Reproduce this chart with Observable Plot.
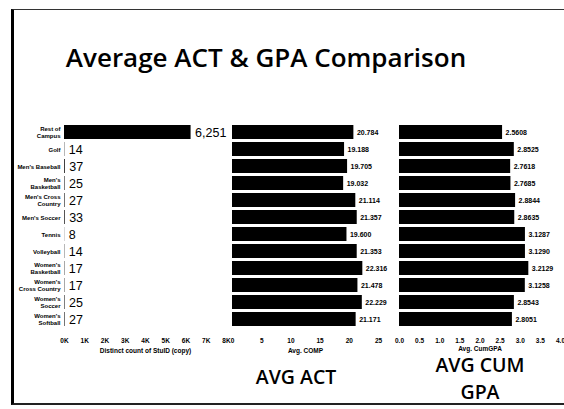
<!DOCTYPE html>
<html><head><meta charset="utf-8">
<script src="https://cdn.jsdelivr.net/npm/d3@7"></script>
<script src="https://cdn.jsdelivr.net/npm/@observablehq/plot@0.6"></script>
<style>
body{margin:0;background:#fff;}
#page{position:relative;width:564px;height:409px;overflow:hidden;background:#fff;font-family:"Liberation Sans",Arial,sans-serif;}
.frame{position:absolute;left:11px;top:9px;width:560px;height:393px;border-left:3px solid #000;border-top:1px solid #333;border-bottom:2px solid #222;}
.title{position:absolute;left:0;width:532px;top:44px;line-height:26px;text-align:center;font-family:"Open Sans",sans-serif;font-weight:600;font-size:26px;color:#000;white-space:nowrap;}
.panel{position:absolute;top:110px;}
.big{position:absolute;font-family:"Open Sans",sans-serif;font-weight:600;font-size:19.5px;line-height:26.6px;text-align:center;color:#000;white-space:nowrap;}
</style></head>
<body>
<div id="page">
  <div class="frame"></div>
  <div class="title">Average ACT &amp; GPA Comparison</div>
  <div class="panel" id="p1" style="left:0px"></div>
  <div class="panel" id="p2" style="left:219px"></div>
  <div class="panel" id="p3" style="left:389px"></div>
  <div class="big" style="left:246px;width:100px;top:364px">AVG ACT</div>
  <div class="big" style="left:420px;width:120px;top:352px">AVG CUM<br>GPA</div>
</div>
<script>
const categories = ["Rest of Campus","Golf","Men's Baseball","Men's Basketball","Men's Cross Country","Men's Soccer","Tennis","Volleyball","Women's Basketball","Women's Cross Country","Women's Soccer","Women's Softball"];
const categoryLabels = ["Rest of\nCampus","Golf","Men's Baseball","Men's\nBasketball","Men's Cross\nCountry","Men's Soccer","Tennis","Volleyball","Women's\nBasketball","Women's\nCross Country","Women's\nSoccer","Women's\nSoftball"];
const studentCounts = [6251,14,37,25,27,33,8,14,17,17,25,27];
const avgComp = [20.784,19.188,19.705,19.032,21.114,21.357,19.600,21.353,22.316,21.478,22.229,21.171];
const avgCumGpa = [2.5608,2.8525,2.7618,2.7685,2.8844,2.8635,3.1287,3.1290,3.2129,3.1258,2.8543,2.8051];
const countTicks = [0,1000,2000,3000,4000,5000,6000,7000,8000];
const compTicks = [0,5,10,15,20,25];
const gpaTicks = [0,0.5,1,1.5,2,2.5,3,3.5,4];

const H = 255, MT = 8, MB = 33;
const labelOf = new Map(categories.map((c,i)=>[c, categoryLabels[i]]));
const svgStyle = {background:"transparent", overflow:"visible", fontFamily:"'Liberation Sans', Arial, sans-serif", color:"#000"};

function panel({values, fmt, ticks, tickFmt, domain, width, ml, mr, axisLabel, valueFont, valueWeight, dx, yAxis, labelOffset}) {
  const data = categories.map((c,i)=>({cat:c, v:values[i]}));
  const marks = [
    Plot.barX(data, {x:"v", y:"cat", fill:"#000"}),
    Plot.text(data, {x:"v", y:"cat", text:d=>fmt(d.v), textAnchor:"start", dx, fontSize:valueFont, fontWeight:valueWeight, fill:"#000"}),
    Plot.axisX({ticks, tickFormat:tickFmt, tickSize:0, tickPadding:6, fontSize:6.5, fontWeight:"bold", label:axisLabel, labelAnchor:"center", labelOffset, labelArrow:"none"})
  ];
  if (yAxis) marks.push(Plot.axisY({tickSize:0, tickPadding:4, fontSize:6, fontWeight:"bold", lineHeight:1.15, tickFormat:d=>labelOf.get(d), label:null}));
  else marks.push(Plot.axisY({ticks:[], label:null}));
  return Plot.plot({
    width, height:H, marginTop:MT, marginBottom:MB, marginLeft:ml, marginRight:mr,
    style:svgStyle,
    x:{domain, label:axisLabel},
    y:{domain:categories, padding:0.2, label:null},
    marks
  });
}

document.getElementById("p1").append(panel({
  values:studentCounts, fmt:d3.format(","), ticks:countTicks, tickFmt:d=>(d/1000)+"K",
  domain:[0,8000], width:240, ml:64, mr:14, axisLabel:"Distinct count of StuID (copy)",
  valueFont:12.5, valueWeight:"normal", dx:4, yAxis:true, labelOffset:20
}));
document.getElementById("p2").append(panel({
  values:avgComp, fmt:d3.format(".3f"), ticks:compTicks, tickFmt:d=>String(d),
  domain:[0,25], width:181, ml:13, mr:22, axisLabel:"Avg. COMP",
  valueFont:7, valueWeight:"bold", dx:3, yAxis:false, labelOffset:20
}));
document.getElementById("p3").append(panel({
  values:avgCumGpa, fmt:d3.format(".4f"), ticks:gpaTicks, tickFmt:d3.format(".1f"),
  domain:[0,4], width:175, ml:10, mr:4, axisLabel:"Avg. CumGPA",
  valueFont:7, valueWeight:"bold", dx:3, yAxis:false, labelOffset:18
}));
</script>
</body></html>
